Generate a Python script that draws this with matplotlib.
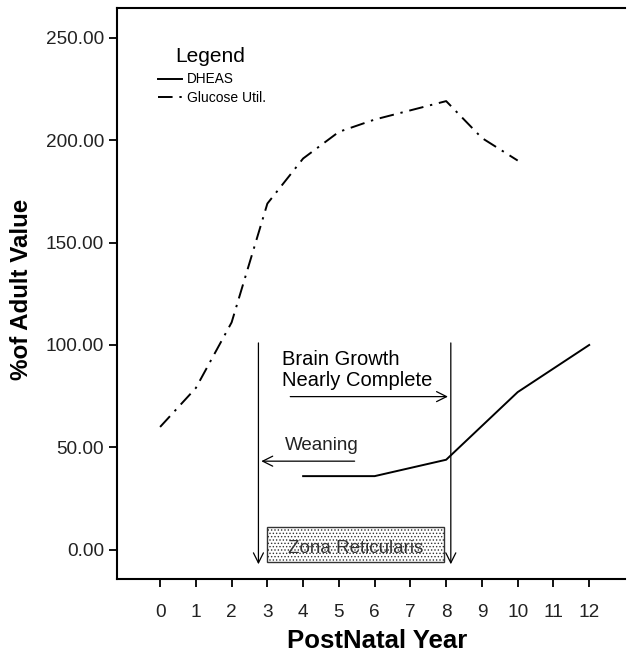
import matplotlib.pyplot as plt

plt.rcParams["font.family"] = ["Liberation Sans", "DejaVu Sans"]
plt.rcParams["hatch.linewidth"] = 0.6

# glucose utilisation, % of adult value
glucose_years = [0, 1, 2, 3, 4, 5, 6, 7, 8, 9, 10]
glucose_values = [60, 79, 111, 169, 191, 204, 210, 214.5, 219, 201, 190]

# DHEAS, % of adult value
dheas_years = [4, 6, 8, 10, 12]
dheas_values = [36, 36, 44, 77, 100]

x_ticks = list(range(0, 13))
y_ticks = [0, 50, 100, 150, 200, 250]

# annotation positions (data units)
weaning_year = 2.75
brain_year = 8.13
zona_start, zona_end = 3.0, 7.95

dash_dot = (7.5, 3.5, 1.2, 3.5)

fig = plt.figure(figsize=(6.3, 6.56), dpi=100)
ax = fig.add_axes([0.186, 0.118, 0.806, 0.87])

ax.plot(dheas_years, dheas_values, color="black", lw=1.4)
ax.plot(glucose_years, glucose_values, color="black", lw=1.4, dashes=dash_dot)

arrow = dict(arrowstyle="->", lw=0.9, color="black", mutation_scale=18,
             shrinkA=0, shrinkB=0)

# vertical markers with open arrowheads
for xv in (weaning_year, brain_year):
    ax.annotate("", xy=(xv, -7), xytext=(xv, 101), arrowprops=arrow)

ax.annotate("", xy=(8.05, 74.8), xytext=(3.64, 74.8), arrowprops=arrow)
ax.text(3.42, 97.5, "Brain Growth\nNearly Complete", fontsize=14.5,
        va="top", ha="left", linespacing=1.1)

ax.annotate("", xy=(2.83, 43.3), xytext=(5.44, 43.3), arrowprops=arrow)
ax.text(3.5, 51, "Weaning", fontsize=13.5, va="center", ha="left",
        color="#222222")

zona = plt.Rectangle((zona_start, -5.8), zona_end - zona_start, 17,
                     facecolor="white", edgecolor="#333333", lw=1.0,
                     hatch=".....")
ax.add_patch(zona)
ax.text((zona_start + zona_end) / 2, 0.5, "Zona Reticularis", fontsize=13.5,
        ha="center", va="center", color="#333333")

# hand-drawn style legend
ax.text(0.42, 241, "Legend", fontsize=15, va="center", ha="left")
ax.plot([-0.06, 0.62], [230, 230], color="black", lw=1.4)
ax.text(0.74, 230, "DHEAS", fontsize=9.8, va="center", ha="left")
ax.plot([-0.06, 0.62], [221, 221], color="black", lw=1.4, dashes=dash_dot)
ax.text(0.74, 220.5, "Glucose Util.", fontsize=10, va="center", ha="left")

ax.set_xlim(-1.2, 13.0)
ax.set_ylim(-14, 264.5)
ax.set_xticks(x_ticks)
ax.set_yticks(y_ticks)
ax.set_yticklabels([f"{v:.2f}" for v in y_ticks])
ax.tick_params(axis="both", direction="out", length=6, width=1.3,
               labelsize=13.7, colors="black", labelcolor="#222222")
ax.tick_params(axis="x", pad=12)
ax.spines["right"].set_visible(False)
for s in ("left", "bottom", "top"):
    ax.spines[s].set_linewidth(1.5)

ax.set_xlabel("PostNatal Year", fontsize=18.5, fontweight="bold")
ax.xaxis.set_label_coords(0.512, -0.089)
ax.set_ylabel("%of Adult Value", fontsize=17.4, fontweight="bold")
ax.yaxis.set_label_coords(-0.165, 0.507)

fig.savefig("out.png", dpi=100)
